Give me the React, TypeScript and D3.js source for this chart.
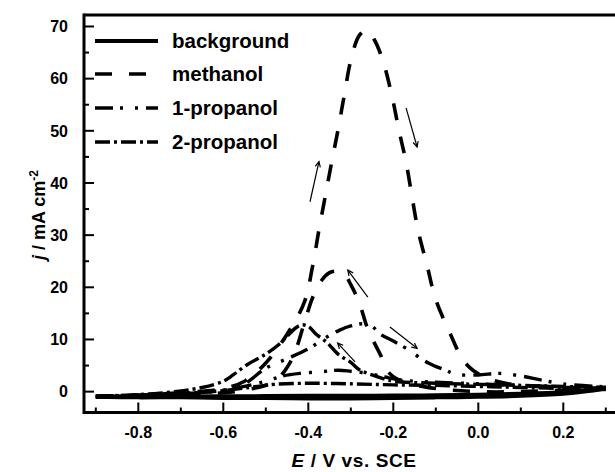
import React from "react";
import * as d3 from "d3";

// ---------- data (E in V vs. SCE, j in mA cm^-2) ----------
const bgFwdE = [-0.9, -0.8, -0.7, -0.6, -0.5, -0.4, -0.3, -0.2, -0.1, 0.0, 0.1, 0.2, 0.25, 0.3];
const bgFwdJ = [-1.0, -1.0, -0.95, -0.9, -0.85, -0.8, -0.8, -0.75, -0.7, -0.6, -0.4, -0.1, 0.2, 0.6];
const bgRevE = [0.3, 0.25, 0.2, 0.1, 0.0, -0.1, -0.2, -0.3, -0.4, -0.5, -0.6, -0.7, -0.8, -0.9];
const bgRevJ = [0.6, 0.0, -0.4, -0.8, -1.0, -1.1, -1.2, -1.3, -1.3, -1.2, -1.2, -1.1, -1.1, -1.0];

const meFwdE = [-0.9, -0.8, -0.7, -0.6, -0.55, -0.5, -0.45, -0.41, -0.39, -0.375, -0.36, -0.345, -0.33, -0.315, -0.3, -0.28, -0.263, -0.245, -0.224, -0.203, -0.187, -0.17, -0.156, -0.142, -0.12, -0.1, -0.065, -0.04, -0.02, 0.0, 0.03, 0.07, 0.12, 0.2, 0.3];
const meFwdJ = [-0.9, -0.7, -0.2, 0.6, 2.0, 5.5, 11.0, 17.0, 24.0, 31.0, 37.5, 44.0, 50.2, 57.0, 63.5, 68.3, 69.3, 67.5, 63.3, 56.6, 50.2, 44.0, 37.4, 31.0, 24.0, 17.6, 10.9, 6.6, 4.6, 3.4, 2.3, 1.5, 1.1, 0.8, 0.8];
const meRevE = [0.3, 0.2, 0.1, 0.0, -0.1, -0.18, -0.21, -0.23, -0.26, -0.28, -0.3, -0.315, -0.333, -0.35, -0.368, -0.39, -0.41, -0.44, -0.48, -0.55, -0.65, -0.75, -0.9];
const meRevJ = [0.8, 0.3, 0.0, 0.0, 0.6, 2.0, 3.6, 7.0, 12.0, 17.0, 20.5, 22.5, 23.1, 22.8, 21.4, 18.0, 13.0, 6.0, 2.0, 0.3, -0.5, -0.8, -1.0];

const p1FwdE = [-0.9, -0.7, -0.6, -0.55, -0.5, -0.45, -0.4, -0.36, -0.326, -0.3, -0.27, -0.25, -0.23, -0.2, -0.17, -0.12, -0.08, -0.05, 0.0, 0.05, 0.1, 0.15, 0.2, 0.3];
const p1FwdJ = [-0.9, -0.3, 0.3, 1.5, 4.5, 6.3, 8.2, 10.3, 11.8, 12.6, 13.0, 12.5, 11.0, 9.7, 8.3, 5.6, 4.2, 3.3, 3.2, 3.5, 3.0, 2.2, 1.5, 0.9];
const p1RevE = [0.3, 0.2, 0.1, 0.0, -0.1, -0.18, -0.22, -0.26, -0.3, -0.33, -0.37, -0.42, -0.46, -0.5, -0.55, -0.6, -0.7, -0.9];
const p1RevJ = [0.6, 0.9, 1.2, 1.5, 1.8, 2.2, 2.8, 3.5, 3.9, 4.1, 3.8, 3.5, 3.0, 2.0, 1.0, 0.2, -0.4, -0.9];

const p2FwdE = [-0.9, -0.75, -0.65, -0.6, -0.577, -0.545, -0.5, -0.47, -0.45, -0.43, -0.415, -0.4, -0.38, -0.357, -0.33, -0.3, -0.28, -0.25, -0.22, -0.2, -0.1, 0.0, 0.1, 0.2, 0.3];
const p2FwdJ = [-0.9, -0.3, 0.8, 2.0, 3.2, 5.1, 7.2, 9.0, 10.6, 12.2, 12.8, 12.5, 10.9, 9.5, 7.2, 5.6, 4.2, 3.2, 2.4, 2.0, 1.6, 1.4, 1.2, 1.0, 0.8];
const p2RevE = [0.3, 0.1, 0.0, -0.1, -0.2, -0.3, -0.4, -0.48, -0.52, -0.6, -0.7, -0.9];
const p2RevJ = [0.4, 0.8, 1.0, 1.2, 1.3, 1.5, 1.6, 1.4, 1.0, 0.2, -0.4, -0.9];

// scan-direction arrows
const arrowE0 = [-0.396, -0.170, -0.307, -0.208, -0.331];
const arrowJ0 = [36.4, 54.4, 23.3, 12.4, 9.3];
const arrowE1 = [-0.375, -0.144, -0.260, -0.144, -0.290];
const arrowJ1 = [44.1, 46.9, 18.1, 8.3, 5.7];
const arrowHeadEnd = [true, true, false, true, false];

const xTicksMajor = [-0.8, -0.6, -0.4, -0.2, 0.0, 0.2];
const xTicksMinor = [-0.9, -0.7, -0.5, -0.3, -0.1, 0.1, 0.3];
const yTicksMajor = [0, 10, 20, 30, 40, 50, 60, 70];
const yTicksMinor = [5, 15, 25, 35, 45, 55, 65];

const seriesNames = ["background", "methanol", "1-propanol", "2-propanol"];

// ---------- layout ----------
const W = 615;
const H = 472;
const left = 84;
const right = 620;
const top = 15;
const bottom = 412.5;
const FONT = "'Liberation Sans', Arial, Helvetica, sans-serif";

const x = d3.scaleLinear().domain([-0.9278, 0.3334]).range([left, right]);
const y = d3.scaleLinear().domain([-4.0, 72.2]).range([bottom, top]);

const styles = [
  { dash: "none", width: 4 },
  { dash: "17,17", width: 3.6 },
  { dash: "18,7,3,12,3,8", width: 3.4 },
  { dash: "15,4,3,4", width: 3.4 },
];

function zip(E: number[], J: number[]): [number, number][] {
  return E.map((e, i) => [e, J[i]] as [number, number]);
}

const line = d3
  .line<[number, number]>()
  .x((d) => x(d[0]))
  .y((d) => y(d[1]))
  .curve(d3.curveCatmullRom.alpha(0.5));

const scans: [number, number][][][] = [
  [zip(bgFwdE, bgFwdJ), zip(bgRevE, bgRevJ)],
  [zip(meFwdE, meFwdJ), zip(meRevE, meRevJ)],
  [zip(p1FwdE, p1FwdJ), zip(p1RevE, p1RevJ)],
  [zip(p2FwdE, p2FwdJ), zip(p2RevE, p2RevJ)],
];

function arrowHead(x0: number, y0: number, x1: number, y1: number) {
  const ang = Math.atan2(y1 - y0, x1 - x0);
  const L = 6;
  const a = 0.45;
  const p1 = [x1 - L * Math.cos(ang - a), y1 - L * Math.sin(ang - a)];
  const p2 = [x1 - L * Math.cos(ang + a), y1 - L * Math.sin(ang + a)];
  return `M${p1[0]},${p1[1]}L${x1},${y1}L${p2[0]},${p2[1]}`;
}

export default function App() {
  const legendY = [41, 74, 108, 142];
  return (
    <svg width={W} height={H} style={{ display: "block", position: "absolute", left: 0, top: 0 }}>
      <defs>
        <clipPath id="plot">
          <rect x={left} y={top} width={right - left} height={bottom - top} />
        </clipPath>
      </defs>
      <rect x={0} y={0} width={W} height={H} fill="#fff" />

      {/* curves */}
      <g clipPath="url(#plot)" fill="none" stroke="#000">
        {scans.map((sc, si) =>
          sc.map((pts, k) => (
            <path
              key={`${si}-${k}`}
              d={line(pts) || ""}
              strokeWidth={styles[si].width}
              strokeDasharray={styles[si].dash}
              strokeLinejoin="round"
            />
          ))
        )}
        {arrowE0.map((e0, i) => {
          const x0 = x(e0), y0 = y(arrowJ0[i]), x1 = x(arrowE1[i]), y1 = y(arrowJ1[i]);
          const head = arrowHeadEnd[i] ? arrowHead(x0, y0, x1, y1) : arrowHead(x1, y1, x0, y0);
          return (
            <g key={`a${i}`} strokeWidth={1.2}>
              <line x1={x0} y1={y0} x2={x1} y2={y1} />
              <path d={head} />
            </g>
          );
        })}
      </g>

      {/* frame */}
      <g stroke="#000" strokeWidth={3} fill="none">
        <line x1={left} y1={top - 1.5} x2={left} y2={bottom + 1.5} />
        <line x1={left} y1={top} x2={W} y2={top} />
        <line x1={left} y1={bottom} x2={W} y2={bottom} />
      </g>

      {/* ticks */}
      <g stroke="#000" strokeWidth={2}>
        {xTicksMajor.map((t) => (
          <line key={`xm${t}`} x1={x(t)} x2={x(t)} y1={bottom} y2={bottom - 10} />
        ))}
        {xTicksMinor.map((t) => (
          <line key={`xn${t}`} x1={x(t)} x2={x(t)} y1={bottom} y2={bottom - 5} />
        ))}
        {yTicksMajor.map((t) => (
          <line key={`ym${t}`} x1={left} x2={left + 10} y1={y(t)} y2={y(t)} />
        ))}
        {yTicksMinor.map((t) => (
          <line key={`yn${t}`} x1={left} x2={left + 5} y1={y(t)} y2={y(t)} />
        ))}
      </g>

      {/* tick labels */}
      <g fontFamily={FONT} fontWeight="bold" fontSize={16} fill="#000">
        {xTicksMajor.map((t) => (
          <text key={`xl${t}`} x={x(t)} y={438} textAnchor="middle">
            {d3.format(".1f")(t).replace("−", "-")}
          </text>
        ))}
        {yTicksMajor.map((t) => (
          <text key={`yl${t}`} x={68} y={y(t) + 5.8} textAnchor="end">
            {t}
          </text>
        ))}
      </g>

      {/* axis titles */}
      <text x={354} y={467} textAnchor="middle" fontFamily={FONT} fontWeight="bold" fontSize={19} letterSpacing={0.6}>
        <tspan fontStyle="italic">E</tspan>
        <tspan> / V vs. SCE</tspan>
      </text>
      <text
        transform={`translate(45,215) rotate(-90)`}
        textAnchor="middle"
        fontFamily={FONT}
        fontWeight="bold"
        fontSize={18}
      >
        <tspan fontStyle="italic">j</tspan>
        <tspan> / mA cm</tspan>
        <tspan fontSize={12} dy={-7}>-2</tspan>
      </text>

      {/* legend */}
      <g>
        {seriesNames.map((n, i) => (
          <g key={n}>
            <line
              x1={95}
              x2={i === 1 ? 148 : 158}
              y1={legendY[i]}
              y2={legendY[i]}
              stroke="#000"
              strokeWidth={i === 0 ? 4.2 : 3.6}
              strokeDasharray={styles[i].dash}
            />
            <text x={172} y={legendY[i] + 7} fontFamily={FONT} fontWeight="bold" fontSize={20.5}>
              {n}
            </text>
          </g>
        ))}
      </g>
    </svg>
  );
}
